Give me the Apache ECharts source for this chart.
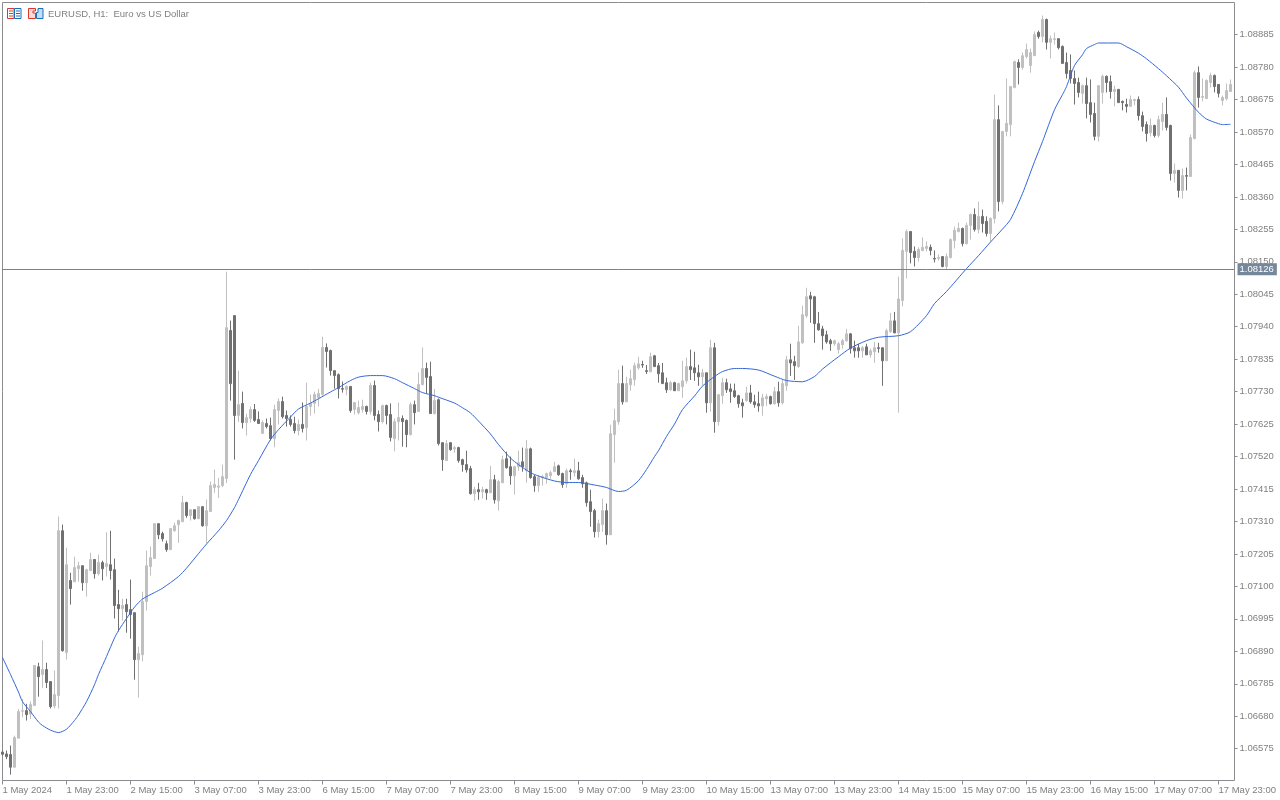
<!DOCTYPE html>
<html><head><meta charset="utf-8">
<style>html,body{margin:0;padding:0;background:#fff}#c{width:1280px;height:800px}</style>
<script src="https://cdn.jsdelivr.net/npm/echarts@6/dist/echarts.min.js"></script>
</head><body><div id="c"></div>
<script>
// all prices are in 1/100000 above 1.00000 (6575 = 1.06575)
const opens=[6564,6558,6556,6515,6609,6696,6698,6687,6715,6840,
6815,6831,6792,6713,6747,7280,6886,7119,7115,7157,
7167,7112,7151,7187,7141,7177,7164,7170,7154,7041,
7028,7041,7025,7015,6863,6879,7051,7164,7190,7303,
7271,7238,7219,7280,7300,7309,7371,7329,7348,7319,
7358,7296,7342,7420,7421,7426,7449,7928,7976,7653,
7692,7630,7643,7672,7640,7595,7627,7620,7578,7669,
7698,7653,7640,7627,7604,7624,7614,7682,7692,7711,
7721,7873,7863,7798,7785,7740,7737,7747,7672,7662,
7672,7682,7666,7750,7656,7633,7685,7656,7578,7633,
7643,7637,7591,7688,7666,7753,7805,7779,7659,7704,
7565,7507,7565,7545,7549,7510,7494,7481,7400,7413,
7406,7413,7403,7445,7377,7435,7513,7487,7458,7487,
7503,7474,7545,7455,7426,7452,7452,7458,7471,7490,
7465,7432,7474,7468,7474,7452,7435,7374,7345,7277,
7300,7345,7267,7591,7633,7756,7697,7752,7769,7807,
7818,7798,7794,7846,7814,7791,7759,7736,7759,7733,
7746,7765,7811,7807,7791,7778,7791,7694,7872,7633,
7717,7759,7739,7733,7717,7694,7701,7726,7697,7691,
7684,7707,7714,7691,7730,7694,7749,7833,7827,7811,
7888,7975,8040,8037,7950,7933,7914,7895,7885,7866,
7882,7895,7917,7872,7872,7862,7875,7849,7859,7872,
7872,7830,7924,7959,7920,8025,8184,8248,8184,8164,
8187,8193,8197,8161,8161,8167,8135,8164,8219,8248,
8258,8209,8268,8303,8255,8297,8281,8242,8290,8610,
8345,8572,8594,8714,8795,8779,8814,8785,8817,8892,
8879,8934,8860,8869,8872,8847,8795,8769,8743,8730,
8695,8720,8665,8630,8556,8698,8750,8733,8701,8708,
8669,8659,8653,8672,8675,8623,8594,8568,8591,8559,
8604,8627,8591,8436,8446,8381,8429,8426,8549,8762,
8682,8678,8730,8753,8724,8672,8678,8701];
const closes=[6557,6549,6515,6611,6695,6698,6685,6718,6844,6808,
6831,6789,6711,6750,7280,6892,7170,7093,7161,7167,
7112,7154,7187,7141,7177,7157,7174,7151,7038,7028,
7038,7018,7009,6863,6883,7051,7167,7193,7303,7267,
7254,7219,7287,7296,7313,7371,7329,7348,7319,7358,
7296,7345,7426,7430,7425,7455,7937,7756,7653,7688,
7630,7646,7672,7637,7627,7630,7617,7578,7672,7698,
7649,7643,7624,7604,7624,7611,7682,7692,7721,7724,
7873,7860,7798,7782,7740,7738,7747,7669,7695,7679,
7682,7666,7750,7653,7633,7685,7653,7582,7633,7646,
7633,7591,7688,7662,7753,7805,7776,7659,7701,7562,
7510,7562,7542,7549,7507,7494,7477,7400,7413,7406,
7413,7403,7445,7380,7439,7510,7484,7458,7487,7500,
7487,7545,7452,7426,7452,7455,7465,7468,7487,7461,
7429,7474,7471,7474,7448,7432,7371,7342,7277,7303,
7345,7267,7594,7636,7756,7697,7756,7772,7814,7820,
7816,7795,7843,7811,7788,7756,7736,7759,7733,7756,
7765,7811,7801,7791,7778,7791,7694,7872,7633,7720,
7759,7736,7730,7714,7691,7684,7726,7697,7688,7684,
7710,7714,7691,7730,7694,7756,7833,7823,7814,7891,
7979,8037,8030,7950,7930,7911,7891,7885,7895,7885,
7895,7917,7869,7862,7862,7872,7849,7862,7872,7870,
7830,7927,7959,7920,8030,8187,8248,8180,8164,8190,
8197,8200,8187,8159,8164,8135,8167,8222,8252,8258,
8209,8268,8303,8255,8297,8274,8242,8290,8610,8345,
8572,8598,8717,8798,8779,8817,8837,8827,8885,8879,
8934,8860,8872,8872,8843,8792,8759,8743,8727,8698,
8720,8662,8627,8556,8720,8750,8730,8701,8708,8665,
8665,8653,8675,8675,8623,8588,8565,8591,8559,8610,
8627,8585,8436,8446,8381,8429,8427,8552,8762,8682,
8685,8737,8753,8717,8695,8682,8704,8724];
const highs=[6569,6569,6585,6617,6704,6736,6720,6728,6846,6853,
6925,6853,6792,6828,7326,7300,7225,7144,7196,7180,
7167,7157,7209,7187,7203,7183,7275,7280,7190,7089,
7060,7060,7122,7015,6905,7083,7216,7229,7303,7303,
7277,7248,7287,7306,7316,7393,7374,7348,7348,7358,
7358,7381,7439,7478,7451,7494,8118,7960,7976,7798,
7730,7658,7682,7690,7666,7637,7643,7646,7688,7708,
7714,7669,7653,7649,7640,7695,7759,7721,7730,7739,
7908,7886,7866,7798,7789,7763,7750,7747,7696,7701,
7704,7685,7759,7766,7669,7688,7688,7692,7643,7695,
7653,7640,7695,7701,7792,7873,7824,7827,7739,7708,
7565,7574,7565,7555,7552,7513,7539,7490,7422,7435,
7422,7416,7490,7461,7445,7523,7536,7520,7490,7539,
7549,7574,7549,7461,7461,7461,7468,7474,7503,7494,
7468,7481,7481,7513,7503,7461,7439,7413,7351,7316,
7384,7368,7623,7675,7801,7814,7778,7801,7824,7843,
7830,7816,7856,7849,7823,7823,7775,7765,7762,7759,
7830,7840,7866,7859,7817,7804,7791,7898,7888,7723,
7775,7772,7756,7756,7720,7707,7746,7752,7720,7730,
7723,7723,7717,7746,7762,7768,7846,7885,7846,7943,
8008,8066,8053,8040,7988,7943,7927,7901,7898,7891,
7901,7933,7920,7895,7885,7878,7885,7869,7891,7888,
7872,7933,7985,7988,8102,8226,8255,8248,8200,8197,
8229,8216,8206,8187,8174,8167,8177,8226,8264,8277,
8261,8277,8306,8323,8345,8319,8297,8294,8691,8656,
8572,8743,8717,8801,8805,8827,8856,8840,8895,8898,
8947,8937,8882,8892,8872,8850,8827,8821,8769,8746,
8724,8746,8740,8665,8720,8756,8753,8753,8720,8708,
8672,8678,8688,8678,8685,8636,8604,8614,8594,8623,
8665,8682,8594,8468,8446,8452,8455,8562,8769,8782,
8743,8740,8762,8756,8724,8688,8727,8740];
const lows=[6553,6541,6491,6515,6609,6677,6666,6671,6715,6743,
6771,6771,6705,6705,6705,6889,6863,7041,7115,7115,
7086,7067,7151,7125,7135,7119,7132,7122,6996,6954,
6989,6950,6931,6798,6740,6857,7022,7135,7190,7253,
7245,7212,7219,7277,7241,7309,7322,7313,7316,7319,
7293,7241,7342,7403,7386,7421,7434,7701,7510,7632,
7611,7588,7630,7632,7627,7595,7611,7572,7550,7624,
7643,7617,7617,7595,7588,7598,7572,7653,7659,7682,
7717,7808,7782,7740,7708,7727,7718,7662,7656,7656,
7662,7656,7656,7637,7601,7627,7624,7569,7537,7572,
7552,7550,7588,7624,7666,7750,7724,7659,7656,7556,
7474,7507,7539,7532,7500,7471,7468,7397,7377,7380,
7384,7380,7403,7368,7345,7435,7481,7429,7397,7474,
7471,7435,7448,7406,7406,7426,7432,7448,7471,7458,
7419,7419,7445,7455,7445,7419,7358,7293,7258,7258,
7277,7235,7267,7500,7623,7688,7697,7733,7749,7801,
7807,7787,7794,7811,7759,7756,7726,7733,7733,7733,
7710,7756,7768,7765,7749,7749,7662,7665,7597,7620,
7691,7726,7694,7710,7678,7646,7697,7691,7678,7665,
7652,7684,7688,7688,7681,7688,7733,7781,7768,7807,
7885,7969,7953,7888,7927,7866,7885,7862,7878,7853,
7869,7891,7853,7840,7840,7840,7849,7840,7823,7856,
7749,7830,7920,7920,7662,8006,8096,8145,8135,8151,
8184,8184,8171,8148,8154,8132,8125,8161,8193,8245,
8200,8206,8222,8248,8242,8245,8232,8216,8274,8313,
8336,8556,8556,8711,8724,8772,8808,8762,8817,8872,
8860,8837,8808,8853,8837,8792,8743,8727,8659,8682,
8662,8614,8601,8543,8539,8662,8698,8678,8653,8665,
8640,8633,8653,8656,8607,8572,8539,8556,8552,8552,
8575,8575,8413,8407,8358,8355,8381,8426,8546,8649,
8669,8678,8714,8698,8682,8656,8672,8701];
// moving average at these bars
const maBars=[0,2,4,5,7,9,10,12,14,16,18,19,21,23,24,26,28,29,31,33,35,38,40,44,46,49,51,54,56,58,59,62,64,67,69,72,74,77,79,82,84,87,89,92,95,98,100,103,105,108,109,113,115,117,119,122,124,127,129,132,134,138,141,144,148,151,154,156,159,161,163,164,166,168,170,173,175,178,180,183,185,189,193,196,200,203,205,209,212,216,219,224,227,231,233,236,241,244,247,250,252,255,258,260,263,265,266,268,270,271,273,274,279,281,284,286,289,291,294,296,299,301,304,305,307];
const maValues=[6870,6815,6758,6727,6695,6661,6650,6635,6627,6638,6666,6684,6727,6782,6815,6873,6933,6957,6996,7033,7059,7080,7094,7132,7159,7206,7237,7280,7313,7355,7381,7462,7507,7575,7607,7648,7674,7693,7707,7729,7743,7766,7777,7782,7782,7772,7759,7740,7727,7717,7712,7693,7678,7661,7635,7593,7559,7515,7494,7468,7457,7441,7436,7436,7428,7420,7407,7411,7442,7478,7520,7539,7585,7625,7672,7716,7748,7779,7795,7805,7805,7800,7780,7766,7762,7779,7803,7843,7871,7895,7906,7911,7924,7976,8015,8054,8128,8170,8214,8256,8287,8371,8474,8539,8642,8691,8717,8785,8820,8840,8853,8858,8858,8846,8825,8807,8775,8752,8715,8680,8634,8612,8597,8594,8595];
const timeLabels=['1 May 2024','1 May 23:00','2 May 15:00','3 May 07:00','3 May 23:00','6 May 15:00','7 May 07:00','7 May 23:00','8 May 15:00','9 May 07:00','9 May 23:00','10 May 15:00','13 May 07:00','13 May 23:00','14 May 15:00','15 May 07:00','15 May 23:00','16 May 15:00','17 May 07:00','17 May 23:00'];
const priceTicks=[6575,6680,6785,6890,6995,7100,7205,7310,7415,7520,7625,7730,7835,7940,8045,8150,8255,8360,8465,8570,8675,8780,8885];
const lastPrice=8126;
const titleText='EURUSD, H1:  Euro vs US Dollar';

const px=v=>1+v/100000;
const barsPerLabel=16;
const categories=opens.map((_,i)=>i%barsPerLabel===0?timeLabels[i/barsPerLabel]:'').concat(['']);
const candles=opens.map((o,i)=>[px(o),px(closes[i]),px(lows[i]),px(highs[i])]);
const ma=opens.map(()=>null);
maBars.forEach((b,k)=>{ma[b]=px(maValues[k]);});

const frame='#8a8c90',txt='#808080',UP='#c0c0c0',DOWN='#707070';
const FONT='"Liberation Sans"';
const chart=echarts.init(document.getElementById('c'),null,{renderer:'canvas'});
chart.setOption({
  animation:false,
  backgroundColor:'#fff',
  title:{text:titleText,left:48,top:8,padding:0,textStyle:{color:txt,fontFamily:FONT,fontSize:9.5,fontWeight:'normal',lineHeight:12}},
  grid:{show:true,left:2.5,top:2.5,width:1232,height:778,borderColor:frame,borderWidth:1,backgroundColor:'#fff',z:0,outerBoundsMode:'none',containLabel:false},
  xAxis:{type:'category',data:categories,boundaryGap:false,
    axisLine:{show:false},
    axisTick:{show:true,interval:barsPerLabel-1,length:4,lineStyle:{color:frame}},
    axisLabel:{show:true,interval:barsPerLabel-1,align:'left',margin:5,color:txt,fontFamily:FONT,fontSize:9.5,hideOverlap:false},
    splitLine:{show:false}},
  yAxis:{type:'value',position:'right',scale:true,min:1.06472,max:1.08989,
    axisLine:{show:false},
    axisTick:{show:true,length:3,lineStyle:{color:frame},customValues:priceTicks.map(px)},
    axisLabel:{show:true,margin:5,color:txt,fontFamily:FONT,fontSize:9.5,customValues:priceTicks.map(px),formatter:v=>v.toFixed(5)},
    splitLine:{show:false}},
  series:[
    {type:'candlestick',data:candles,barWidth:2,clip:true,
      itemStyle:{color:UP,color0:DOWN,borderColor:UP,borderColor0:DOWN,borderWidth:1},
      markLine:{silent:true,symbol:'none',animation:false,precision:5,
        lineStyle:{color:'#79838f',width:1,type:'solid'},
        label:{show:true,position:'end',distance:3,formatter:p=>p.value.toFixed(5),color:'#fff',backgroundColor:'#75879a',fontFamily:FONT,fontSize:9.5,padding:[1,3,1,2]},
        data:[{yAxis:px(lastPrice)}]},z:2},
    {type:'line',data:ma,connectNulls:true,smooth:0.25,showSymbol:false,symbol:'none',
      lineStyle:{color:'#3366dd',width:1},z:3}
  ],
  graphic:[
    {type:'group',left:7,top:8,children:[
      {type:'rect',shape:{x:0.5,y:0.5,width:6.5,height:10},style:{fill:'#fff',stroke:'#e0352b',lineWidth:1}},
      {type:'rect',shape:{x:7.5,y:0.5,width:6.5,height:10},style:{fill:'#fff',stroke:'#1b6fb5',lineWidth:1}},
      {type:'rect',shape:{x:2,y:2.5,width:4,height:1},style:{fill:'#e0352b'}},
      {type:'rect',shape:{x:2,y:5,width:4,height:1},style:{fill:'#e0352b'}},
      {type:'rect',shape:{x:2,y:7.5,width:4,height:1},style:{fill:'#e0352b'}},
      {type:'rect',shape:{x:9,y:2.5,width:4,height:1},style:{fill:'#1b6fb5'}},
      {type:'rect',shape:{x:9,y:5,width:4,height:1},style:{fill:'#1b6fb5'}},
      {type:'rect',shape:{x:9,y:7.5,width:4,height:1},style:{fill:'#1b6fb5'}}
    ]},
    {type:'group',left:28,top:8,children:[
      {type:'polygon',shape:{points:[[0.5,0.5],[7.5,0.5],[7.5,3],[5,3],[5,5],[7.5,5],[7.5,10.5],[0.5,10.5]]},style:{fill:'#fbd9d4',stroke:'#e0352b',lineWidth:1}},
      {type:'polygon',shape:{points:[[8.5,10.5],[8.5,4.5],[10,4.5],[10,0.5],[15,0.5],[15,10.5]]},style:{fill:'#bfe0f5',stroke:'#1b6fb5',lineWidth:1}}
    ]}
  ]
});
</script></body></html>
